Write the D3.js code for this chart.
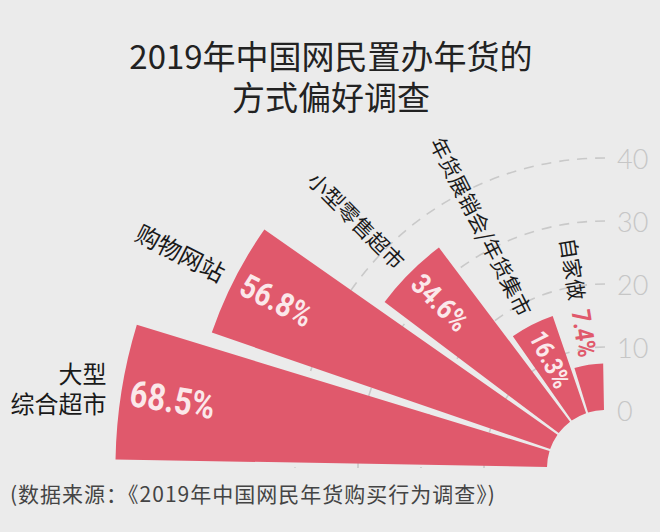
<!DOCTYPE html>
<html>
<head>
<meta charset="utf-8">
<script src="https://cdn.jsdelivr.net/npm/d3@7"></script>
<style>
  html, body { margin: 0; padding: 0; background: #ebebeb; }
  svg { display: block; }
</style>
</head>
<body>
<svg id="chart" width="660" height="532"></svg>
<script>
// ---- data ----
const titleLines = ["2019年中国网民置办年货的", "方式偏好调查"];
const sourceText = "(数据来源：《2019年中国网民年货购买行为调查》)";
const categories = ["大型综合超市", "购物网站", "小型零售超市", "年货展销会/年货集市", "自家做"];
const categoryLines = [["大型", "综合超市"], ["购物网站"], ["小型零售超市"], ["年货展销会/年货集市"], ["自家做"]];
const values = [68.5, 56.8, 34.6, 16.3, 7.4];
const tickValues = [0, 10, 20, 30, 40];

// ---- styles ----
const valueFontSizes = [37, 33, 29, 26, 26];
const labelFontSizes = [24, 24, 21, 21, 21];
const barColor = "#e0596c";
const cx = 605, cy = 468;
const innerR = 58;
const condense = 0.84;

const svg = d3.select("#chart");
svg.append("rect").attr("width", 660).attr("height", 532).attr("fill", "#ebebeb");

// title
svg.append("g").selectAll("text").data(titleLines).join("text")
  .attr("x", 331).attr("y", (d, i) => 55 + i * 41)
  .attr("text-anchor", "middle").attr("dominant-baseline", "central")
  .attr("font-family", "'Noto Sans CJK SC', sans-serif")
  .attr("font-size", 33).attr("fill", "#222")
  .text(d => d);

// source
svg.append("text")
  .attr("x", 10).attr("y", 493)
  .attr("dominant-baseline", "central")
  .attr("font-family", "'Noto Sans CJK SC', sans-serif")
  .attr("font-size", 21).attr("letter-spacing", 1).attr("fill", "#444")
  .text(sourceText);

// scales
const r = d3.scaleLinear().domain([0, 40]).range([innerR, 310]);
const ang = d3.scaleBand().domain(categories).range([-Math.PI / 2, 0])
  .paddingInner(2 / 18).paddingOuter(1 / 18);

const g = svg.append("g").attr("transform", `translate(${cx},${cy})`);

// grid arcs
tickValues.filter(t => t > 0).forEach(t => {
  const p = d3.path();
  p.arc(0, 0, r(t), -Math.PI / 2, -Math.PI, true);
  g.append("path").attr("d", p.toString())
    .attr("fill", "none").attr("stroke", "#c9c9c9")
    .attr("stroke-width", 1.6).attr("stroke-dasharray", "10,8");
});

// tick labels
g.selectAll(".tick").data(tickValues).join("text")
  .attr("class", "tick")
  .attr("x", 12).attr("y", d => -r(d))
  .attr("dominant-baseline", "central")
  .attr("font-family", "Lato, 'Open Sans', sans-serif")
  .attr("font-weight", 300)
  .attr("font-size", 27).attr("fill", "#c6c6c6")
  .text(d => d);

// bars
const arc = d3.arc()
  .innerRadius(innerR)
  .outerRadius(d => r(d.v))
  .startAngle(d => ang(d.c))
  .endAngle(d => ang(d.c) + ang.bandwidth());

const data = categories.map((c, i) => ({ c, v: values[i], i }));
g.selectAll(".bar").data(data).join("path")
  .attr("class", "bar")
  .attr("d", arc)
  .attr("fill", barColor);

const valueFont = "Roboto, 'Liberation Sans', sans-serif";
const labelFont = "'Noto Sans CJK SC', sans-serif";

data.forEach(d => {
  const a = ang(d.c) + ang.bandwidth() / 2;      // d3 angle (0 = up)
  const deg = a * 180 / Math.PI + 90;             // rotation for inward reading
  const ro = r(d.v);
  const pt = rr => [rr * Math.sin(a), -rr * Math.cos(a)];
  const inside = d.v > 10;

  // value label
  let vr = inside ? ro - 9 : ro + 8;
  const [vx, vy] = pt(vr);
  const vt = g.append("text")
    .attr("transform", `translate(${vx},${vy}) rotate(${deg}) scale(${condense},1)`)
    .attr("text-anchor", inside ? "start" : "end")
    .attr("dominant-baseline", "central")
    .attr("font-family", valueFont)
    .attr("font-weight", "bold")
    .attr("font-size", valueFontSizes[d.i])
    .attr("fill", inside ? "#fbe8ea" : barColor)
    .text(d.v + "%");
  const vLen = vt.node().getComputedTextLength() * condense;

  // category label
  const lines = categoryLines[d.i];
  if (lines.length > 1) {
    const [lx, ly] = pt(ro);
    g.append("text")
      .attr("text-anchor", "end")
      .attr("font-family", labelFont)
      .attr("font-size", labelFontSizes[d.i])
      .attr("fill", "#1a1a1a")
      .selectAll("tspan").data(lines).join("tspan")
      .attr("x", lx - 15)
      .attr("y", (s, k) => ly - 19 + k * 30)
      .attr("dominant-baseline", "central")
      .text(s => s);
  } else {
    const lr = inside ? ro + 12 : ro + 8 + vLen + 10;
    const [lx, ly] = pt(lr);
    g.append("text")
      .attr("transform", `translate(${lx},${ly}) rotate(${deg})`)
      .attr("text-anchor", "end")
      .attr("dominant-baseline", "central")
      .attr("font-family", labelFont)
      .attr("font-size", labelFontSizes[d.i])
      .attr("fill", "#1a1a1a")
      .text(lines[0]);
  }
});
</script>
</body>
</html>
